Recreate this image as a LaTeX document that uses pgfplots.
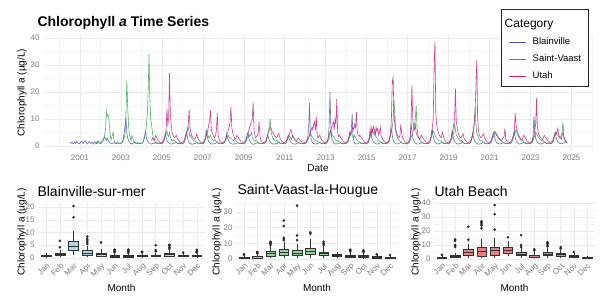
\documentclass[border=0pt]{standalone}
\usepackage{fontspec}
\setmainfont{Liberation Sans}
\usepackage{pgfplots}
\usepackage{pgfplotstable}
\pgfplotsset{compat=1.18}
\usepgfplotslibrary{statistics}
\definecolor{cB}{HTML}{4A56B8}
\definecolor{cS}{HTML}{2EA844}
\definecolor{cU}{HTML}{C41E8A}
\definecolor{fB}{HTML}{ADD8E6}
\definecolor{fS}{HTML}{90D890}
\definecolor{fU}{HTML}{EE7F7F}
\definecolor{gridmaj}{HTML}{EBEBEB}
\definecolor{gridmin}{HTML}{F5F5F5}
\definecolor{tickc}{HTML}{7A7A7A}
\pgfplotsset{
  base/.style={scale only axis, anchor=south west,
    axis line style={draw=none}, tick style={draw=none},
    major tick length=0pt, minor tick length=0pt,
    grid=both, major grid style={gridmaj, line width=0.5pt},
    minor grid style={gridmin, line width=0.4pt},
    tick label style={font=\fontsize{8}{9}\selectfont, text=tickc},
    /pgf/number format/assume math mode=true},
  panel/.style={base, xmin=0.4, xmax=12.6, xtick={1,...,12},
    xticklabels={Jan,Feb,Mar,Apr,May,Jun,Jul,Aug,Sep,Oct,Nov,Dec},
    xticklabel style={rotate=45, anchor=north east, inner sep=1pt},
    boxplot/draw direction=y, boxplot/box extend=0.72, boxplot/whisker extend=0,
    boxplot/every median/.style={line width=1pt}},
  bp/.style={boxplot prepared={#1}, draw=black!80, line width=0.45pt,
    mark=*, mark size=1.2pt, mark options={fill=black!85, draw=black!85, line width=0.2pt}},
  legend image code/.code={\path (0pt,-0.1pt) rectangle (3pt,0.1pt);\draw[#1] (3pt,0pt) -- (17pt,0pt);},
}
% Blainville, semi-monthly from 2000.5
\pgfplotstableread[row sep=\\]{v\\
1.5\\1.2\\1.0\\1.3\\0.8\\1.1\\1.4\\0.9\\1.6\\1.2\\1.0\\0.8\\
1.0\\1.4\\1.8\\1.2\\0.9\\1.5\\2.0\\1.6\\1.0\\0.8\\1.3\\1.7\\1.1\\0.9\\1.4\\1.0\\0.7\\1.2\\1.5\\1.0\\0.8\\1.3\\1.6\\1.1\\
1.0\\0.9\\1.3\\1.6\\2.5\\3.5\\2.8\\2.0\\3.0\\2.2\\1.5\\1.2\\1.0\\0.8\\0.9\\1.1\\1.3\\1.0\\0.8\\0.9\\1.2\\1.0\\0.9\\1.1\\
1.0\\1.2\\1.5\\3.0\\5.0\\8.0\\10.0\\5.0\\3.0\\2.0\\1.5\\1.0\\0.9\\0.7\\1.0\\1.2\\1.5\\1.0\\0.9\\0.8\\1.1\\1.0\\0.9\\1.2\\
1.0\\1.1\\1.4\\2.5\\4.0\\5.5\\3.0\\2.0\\1.5\\1.2\\1.0\\0.8\\0.7\\0.9\\1.0\\1.2\\0.9\\1.3\\1.0\\0.8\\1.0\\1.1\\0.9\\1.0\\
0.9\\1.0\\1.6\\2.8\\4.5\\3.5\\2.2\\1.5\\1.2\\1.0\\0.8\\0.7\\0.8\\0.9\\1.1\\1.0\\1.2\\1.4\\1.0\\0.9\\0.8\\1.0\\0.9\\0.8\\
0.8\\1.0\\1.3\\2.0\\4.0\\5.0\\3.0\\1.8\\1.3\\1.0\\0.8\\0.7\\0.6\\0.8\\1.0\\0.9\\1.1\\1.3\\1.0\\0.9\\0.8\\0.9\\1.0\\0.8\\
0.9\\1.0\\1.5\\3.0\\6.0\\4.0\\2.5\\1.6\\1.2\\1.0\\0.8\\0.7\\0.8\\0.9\\0.8\\1.0\\1.2\\1.5\\1.1\\0.9\\0.8\\0.9\\1.0\\0.9\\
1.0\\1.2\\1.4\\2.5\\4.5\\3.0\\2.0\\1.5\\1.2\\0.9\\0.8\\0.7\\0.7\\0.8\\0.9\\1.0\\1.1\\1.2\\1.0\\0.9\\0.8\\1.0\\0.9\\0.8\\
0.9\\1.0\\1.3\\2.2\\3.8\\5.0\\2.8\\1.8\\1.3\\1.0\\0.8\\0.6\\0.7\\0.8\\0.9\\1.1\\1.3\\1.0\\0.9\\0.8\\0.9\\1.0\\0.8\\0.9\\
1.0\\1.1\\1.5\\2.6\\4.2\\3.2\\2.0\\1.4\\1.1\\0.9\\0.8\\0.7\\0.8\\0.9\\0.7\\0.9\\1.2\\1.6\\1.1\\1.0\\0.8\\0.9\\1.0\\0.9\\
0.9\\1.0\\1.4\\2.4\\4.0\\3.0\\2.0\\1.5\\1.2\\1.0\\0.8\\0.7\\0.8\\0.7\\0.9\\1.0\\1.1\\1.2\\1.0\\0.9\\0.8\\0.9\\0.8\\0.9\\
1.0\\1.2\\2.0\\3.5\\6.0\\16.0\\5.0\\2.5\\1.5\\1.2\\0.9\\0.8\\0.7\\0.8\\0.9\\1.0\\1.2\\1.4\\1.1\\0.9\\0.8\\0.9\\1.0\\0.8\\
0.9\\1.1\\1.5\\3.0\\7.0\\20.0\\8.0\\3.0\\2.0\\1.4\\1.0\\0.8\\0.7\\0.8\\0.9\\1.0\\1.1\\1.3\\1.0\\0.9\\0.8\\0.9\\1.0\\0.9\\
1.0\\1.2\\1.6\\3.0\\5.0\\4.0\\6.0\\12.0\\3.0\\1.8\\1.0\\0.8\\0.7\\0.8\\0.9\\1.1\\1.3\\1.0\\0.9\\0.8\\0.9\\1.0\\0.8\\0.9\\
0.9\\1.0\\1.4\\2.5\\4.0\\5.0\\3.0\\2.0\\1.5\\1.2\\1.0\\0.8\\0.7\\0.8\\0.9\\1.0\\1.2\\1.4\\1.0\\0.9\\0.8\\0.9\\1.0\\0.8\\
0.9\\1.1\\1.5\\2.8\\5.0\\6.5\\4.0\\2.2\\1.5\\1.1\\0.9\\0.8\\0.7\\0.8\\1.0\\1.1\\1.3\\1.2\\1.0\\0.9\\0.8\\0.9\\0.8\\0.9\\
1.0\\1.2\\1.6\\3.0\\8.0\\6.0\\3.0\\2.0\\1.4\\1.1\\0.9\\0.8\\0.7\\0.8\\0.9\\1.0\\1.2\\1.5\\1.1\\0.9\\0.8\\0.9\\1.0\\0.9\\
0.9\\1.0\\1.3\\2.4\\4.5\\6.0\\3.5\\2.2\\1.5\\1.1\\0.9\\0.7\\0.8\\0.9\\1.0\\1.2\\1.4\\1.1\\1.0\\0.8\\0.9\\1.0\\0.8\\0.9\\
1.0\\1.1\\1.5\\2.8\\5.5\\4.0\\2.5\\1.8\\1.3\\1.0\\0.8\\0.7\\0.8\\0.9\\1.0\\1.1\\1.6\\1.3\\1.0\\0.9\\0.8\\0.9\\1.0\\0.8\\
0.9\\1.0\\1.4\\2.6\\4.8\\3.5\\2.2\\1.6\\1.2\\1.0\\0.8\\0.7\\0.7\\0.8\\0.9\\1.0\\1.2\\1.4\\1.1\\0.9\\0.8\\0.9\\0.8\\0.9\\
1.0\\1.2\\1.6\\3.0\\4.5\\5.0\\3.0\\2.0\\1.4\\1.0\\0.9\\0.8\\0.7\\0.8\\0.9\\1.1\\1.3\\1.2\\1.0\\0.9\\0.8\\0.9\\1.0\\0.9\\
0.9\\1.1\\1.5\\2.8\\4.0\\5.5\\3.2\\2.0\\1.4\\1.1\\0.9\\0.7\\0.8\\0.9\\1.0\\1.2\\1.4\\1.1\\1.0\\0.9\\0.8\\0.9\\1.0\\0.8\\
1.0\\1.2\\1.6\\3.5\\11.0\\6.0\\3.0\\2.0\\1.4\\1.1\\0.9\\0.8\\0.7\\0.8\\0.9\\1.0\\1.3\\1.5\\1.1\\0.9\\0.8\\0.9\\1.0\\0.9\\
1.0\\1.1\\1.5\\2.6\\4.0\\5.0\\3.0\\2.0\\1.5\\1.2\\1.0\\0.9\\0.8\\0.9\\1.0\\1.2\\1.4\\1.6\\1.2\\1.0\\
}\tabB
% Saint-Vaast, semi-monthly from 2001.75
\pgfplotstableread[row sep=\\]{v\\
1.0\\1.5\\1.2\\2.0\\1.5\\1.0\\
1.2\\1.5\\2.0\\2.5\\3.0\\4.0\\6.0\\13.0\\11.0\\11.5\\10.0\\6.0\\3.0\\2.5\\4.0\\5.0\\2.0\\1.5\\1.2\\1.0\\1.5\\1.2\\1.0\\0.9\\
1.0\\1.2\\1.5\\2.0\\3.0\\5.0\\12.0\\24.0\\15.0\\8.0\\4.0\\3.0\\2.0\\4.0\\3.0\\1.8\\1.5\\1.2\\1.0\\1.3\\1.1\\0.9\\1.0\\0.9\\
1.0\\1.2\\1.6\\2.5\\3.5\\5.0\\8.0\\12.0\\20.0\\34.0\\18.0\\10.0\\8.0\\5.0\\3.0\\2.5\\2.0\\1.6\\1.3\\1.1\\1.0\\1.2\\1.0\\0.9\\
1.0\\1.1\\1.5\\2.5\\3.5\\4.5\\5.5\\4.0\\3.5\\5.0\\3.0\\2.5\\2.0\\1.8\\2.2\\2.0\\1.5\\1.3\\1.1\\1.0\\1.2\\1.0\\0.9\\1.0\\
0.9\\1.0\\1.4\\2.2\\3.0\\4.0\\6.0\\7.0\\5.0\\3.5\\4.0\\3.0\\2.5\\2.0\\1.8\\2.0\\1.6\\1.3\\1.1\\1.0\\1.1\\1.0\\0.9\\1.0\\
1.0\\1.1\\1.5\\2.4\\3.5\\5.0\\4.0\\3.0\\3.5\\4.0\\3.0\\2.5\\2.0\\1.8\\2.5\\2.0\\1.5\\1.2\\1.1\\1.0\\0.9\\1.0\\1.1\\0.9\\
1.0\\1.2\\1.6\\2.5\\3.0\\3.5\\4.0\\3.0\\3.2\\2.8\\2.5\\2.2\\2.0\\2.4\\2.2\\2.0\\1.6\\1.3\\1.1\\1.0\\1.1\\1.0\\0.9\\1.0\\
0.9\\1.0\\1.4\\2.0\\2.8\\3.5\\4.5\\3.5\\4.0\\5.0\\3.0\\2.5\\2.0\\2.2\\1.8\\2.0\\1.5\\1.2\\1.0\\1.1\\1.0\\0.9\\1.0\\0.9\\
1.0\\1.1\\1.5\\2.5\\4.0\\6.0\\7.0\\10.0\\5.0\\4.0\\3.0\\2.5\\2.0\\1.8\\2.0\\2.2\\1.6\\1.3\\1.1\\1.0\\1.1\\1.0\\0.9\\1.0\\
0.9\\1.0\\1.4\\2.2\\3.0\\4.0\\3.5\\3.0\\2.5\\4.0\\3.0\\2.5\\2.0\\1.8\\1.6\\1.5\\1.3\\1.2\\1.0\\1.1\\1.0\\0.9\\1.0\\0.9\\
1.0\\1.2\\1.5\\2.2\\3.0\\4.0\\5.0\\4.0\\3.5\\3.0\\2.5\\2.2\\2.0\\1.8\\2.0\\1.6\\1.4\\1.2\\1.1\\1.0\\0.9\\1.0\\1.1\\0.9\\
0.9\\1.0\\1.4\\2.0\\3.0\\4.0\\5.5\\4.5\\4.0\\3.5\\3.0\\2.5\\2.2\\2.0\\1.8\\2.0\\1.5\\1.3\\1.1\\1.0\\1.1\\1.0\\0.9\\1.0\\
1.0\\1.1\\1.5\\2.4\\3.2\\4.0\\5.0\\4.0\\3.5\\3.0\\4.0\\3.0\\2.5\\2.0\\1.8\\1.6\\1.4\\1.2\\1.1\\1.0\\0.9\\1.0\\1.0\\0.9\\
0.9\\1.0\\1.4\\2.2\\3.0\\4.5\\5.5\\6.0\\5.0\\4.0\\5.0\\3.5\\3.0\\2.5\\2.0\\1.8\\1.5\\1.3\\1.1\\1.0\\1.1\\1.0\\0.9\\1.0\\
1.0\\1.2\\1.6\\2.5\\4.0\\5.0\\7.0\\10.0\\17.0\\12.0\\6.0\\4.0\\3.0\\2.5\\2.0\\1.8\\1.6\\1.3\\1.1\\1.0\\1.1\\1.0\\0.9\\1.0\\
0.9\\1.0\\1.5\\2.2\\3.0\\4.0\\5.0\\6.0\\8.0\\10.0\\15.0\\7.0\\4.0\\3.0\\2.5\\2.0\\1.6\\1.3\\1.1\\1.0\\0.9\\1.0\\1.0\\0.9\\
1.0\\1.1\\1.5\\2.4\\3.5\\4.5\\5.5\\5.0\\4.0\\3.5\\3.0\\2.5\\2.2\\2.0\\1.8\\2.0\\1.5\\1.3\\1.1\\1.0\\1.1\\1.0\\0.9\\1.0\\
0.9\\1.0\\1.4\\2.2\\3.0\\4.0\\5.0\\8.0\\6.0\\4.0\\3.5\\3.0\\2.5\\2.0\\1.8\\2.2\\1.6\\1.3\\1.1\\1.0\\0.9\\1.0\\1.0\\0.9\\
1.0\\1.1\\1.5\\2.4\\3.5\\5.0\\9.0\\14.0\\8.0\\5.0\\4.0\\3.0\\2.5\\2.0\\1.8\\2.0\\1.5\\1.3\\1.1\\1.0\\1.1\\1.0\\0.9\\1.0\\
0.9\\1.0\\1.4\\2.2\\3.0\\4.0\\4.5\\5.0\\4.0\\3.5\\3.0\\2.5\\2.2\\2.0\\1.8\\1.6\\1.4\\1.2\\1.1\\1.0\\0.9\\1.0\\1.0\\0.9\\
1.0\\1.1\\1.5\\2.4\\3.2\\4.0\\5.0\\6.0\\5.0\\4.0\\3.5\\3.0\\2.5\\2.0\\1.8\\2.0\\1.6\\1.3\\1.1\\1.0\\1.1\\1.0\\0.9\\1.0\\
0.9\\1.0\\1.4\\2.2\\3.0\\4.0\\5.0\\4.5\\4.0\\3.5\\3.0\\2.5\\2.2\\2.0\\1.8\\2.0\\1.5\\1.3\\1.1\\1.0\\0.9\\1.0\\1.0\\0.9\\
1.0\\1.1\\1.5\\2.4\\3.2\\4.0\\5.0\\4.5\\4.0\\3.5\\3.0\\3.5\\4.0\\5.0\\9.0\\4.0\\2.0\\1.6\\1.3\\1.1\\
}\tabS
% Utah, semi-monthly from 2004.5
\pgfplotstableread[row sep=\\]{v\\
2.0\\3.0\\2.5\\2.0\\3.0\\4.0\\3.0\\2.5\\2.0\\1.5\\1.3\\1.2\\
1.5\\1.8\\2.5\\3.0\\4.0\\6.0\\13.7\\8.0\\10.0\\27.0\\12.0\\8.0\\5.0\\4.0\\3.5\\3.0\\3.5\\4.0\\3.0\\2.5\\2.0\\1.6\\1.4\\1.3\\
1.4\\1.6\\2.0\\3.0\\4.0\\5.0\\6.0\\8.0\\13.5\\7.0\\5.0\\4.0\\3.5\\3.0\\2.5\\2.8\\3.5\\4.5\\3.0\\2.5\\2.0\\1.6\\1.4\\1.3\\
1.4\\1.6\\2.0\\3.0\\4.0\\5.0\\6.0\\8.0\\9.0\\13.3\\6.0\\5.0\\4.0\\3.5\\3.0\\4.0\\6.0\\12.3\\4.0\\2.5\\2.0\\1.6\\1.4\\1.3\\
1.4\\1.6\\2.0\\3.0\\4.0\\5.0\\6.0\\7.0\\9.0\\14.5\\7.0\\5.0\\4.0\\3.0\\2.5\\3.0\\4.0\\3.5\\3.0\\2.5\\2.0\\1.6\\1.4\\1.3\\
1.4\\1.6\\2.0\\3.0\\4.0\\5.0\\6.0\\7.0\\8.0\\9.0\\10.0\\16.3\\6.0\\4.0\\3.0\\3.5\\4.0\\5.0\\9.0\\4.0\\2.0\\1.6\\1.4\\1.3\\
1.4\\1.6\\2.0\\3.0\\4.0\\5.0\\6.0\\7.0\\6.5\\5.5\\5.0\\4.5\\4.0\\3.5\\3.0\\3.5\\4.0\\4.5\\3.5\\2.5\\2.0\\1.6\\1.4\\1.3\\
1.4\\1.6\\2.0\\3.0\\3.5\\4.0\\5.0\\6.0\\5.5\\4.0\\3.5\\3.0\\2.5\\2.2\\2.0\\2.5\\3.0\\2.5\\2.0\\1.8\\1.6\\1.5\\1.4\\1.3\\
1.4\\1.6\\2.0\\2.5\\3.0\\4.0\\5.0\\6.0\\7.0\\6.0\\8.0\\9.0\\6.0\\11.0\\4.0\\3.0\\3.5\\4.0\\3.0\\2.5\\2.0\\1.6\\1.4\\1.3\\
1.4\\1.6\\2.0\\3.0\\4.0\\5.0\\6.0\\7.0\\8.0\\9.0\\6.0\\10.0\\8.0\\17.4\\5.0\\3.5\\4.0\\3.5\\3.0\\2.5\\2.0\\1.6\\1.4\\1.3\\
1.4\\1.6\\2.0\\3.0\\4.0\\5.0\\5.5\\6.0\\7.0\\6.0\\8.0\\7.0\\12.5\\5.0\\4.0\\3.5\\4.0\\3.5\\3.0\\2.5\\2.0\\1.6\\1.4\\1.3\\
1.4\\1.6\\2.0\\3.0\\6.5\\4.0\\7.0\\5.0\\7.2\\6.0\\4.0\\7.0\\5.5\\6.5\\4.0\\5.0\\7.0\\4.0\\3.0\\2.5\\2.0\\1.6\\1.4\\1.3\\
1.4\\1.6\\2.0\\3.0\\5.0\\10.0\\24.0\\25.5\\12.0\\8.0\\6.0\\5.0\\4.0\\3.5\\3.0\\4.0\\8.0\\5.0\\3.0\\2.5\\2.0\\1.6\\1.4\\1.3\\
1.4\\1.6\\2.0\\3.5\\8.0\\22.6\\10.0\\7.0\\6.0\\8.0\\5.0\\4.0\\3.5\\3.0\\2.5\\3.0\\4.0\\3.5\\3.0\\2.5\\2.0\\1.6\\1.4\\1.3\\
1.4\\1.6\\2.0\\3.0\\5.0\\7.0\\10.0\\30.0\\38.5\\12.0\\8.0\\6.0\\5.0\\4.0\\3.5\\3.0\\4.0\\5.0\\3.5\\2.5\\2.0\\1.6\\1.4\\1.3\\
1.4\\1.6\\2.0\\3.0\\4.0\\6.0\\8.0\\10.0\\21.2\\9.0\\7.0\\5.0\\4.0\\3.5\\3.0\\3.5\\4.0\\4.5\\3.0\\2.5\\2.0\\1.6\\1.4\\1.3\\
1.4\\1.6\\2.0\\3.0\\4.0\\6.0\\8.0\\12.0\\22.0\\32.0\\10.0\\6.0\\4.0\\3.5\\3.0\\3.5\\4.0\\4.5\\3.0\\2.5\\2.0\\1.6\\1.4\\1.3\\
1.4\\1.6\\2.0\\3.0\\4.0\\5.0\\5.5\\5.0\\4.5\\4.0\\3.5\\3.0\\2.5\\2.2\\2.0\\2.5\\3.0\\3.5\\6.5\\2.5\\2.0\\1.6\\1.4\\1.3\\
1.4\\1.6\\2.0\\3.0\\4.0\\6.0\\12.3\\8.0\\6.0\\5.0\\4.0\\3.5\\3.0\\2.5\\2.2\\3.0\\4.0\\3.5\\3.0\\2.5\\2.0\\1.6\\1.4\\1.3\\
1.4\\1.6\\2.0\\3.0\\4.0\\6.0\\8.0\\17.6\\7.0\\5.0\\4.0\\3.5\\3.0\\2.5\\2.2\\3.0\\4.0\\3.5\\3.0\\2.5\\2.0\\1.6\\1.4\\1.3\\
1.4\\1.6\\2.0\\3.0\\4.0\\5.0\\4.5\\5.5\\6.6\\4.0\\3.5\\3.0\\2.5\\4.0\\5.0\\3.0\\2.5\\2.0\\1.6\\1.4\\
}\tabU
\begin{document}
\begin{tikzpicture}[x=1pt,y=1pt]
\path[use as bounding box] (0,0) rectangle (600,302);
% ---------- top time series ----------
\begin{axis}[base, at={(43pt,151pt)}, width=549pt, height=116pt,
  xmin=1999.2, xmax=2026.0, ymin=-1.85, ymax=41.1,
  xtick={2001,2003,...,2025}, minor xtick={2000,2002,...,2026},
  ytick={0,10,20,30,40}, minor ytick={5,15,25,35},
  xticklabel style={/pgf/number format/1000 sep={}},
  legend cell align=left,
  legend style={at={(0.9945,1.224)}, anchor=north east, draw=black!85,
    line width=0.6pt, fill=white, font=\fontsize{9.5}{11}\selectfont,
    row sep=8.5pt, column sep=0pt, inner xsep=7pt, inner ysep=5.5pt,
    nodes={inner sep=0pt}},
]
\addlegendimage{empty legend}
\addlegendentry{\rule[-3.2pt]{0pt}{16.3pt}\hspace*{-22pt}\fontsize{12}{12}\selectfont Category}
\addlegendimage{draw=cB, line width=0.9pt}
\addlegendentry{\rule[-2pt]{0pt}{9pt}\hspace*{6pt}\makebox[49pt][l]{Blainville}}
\addlegendimage{draw=cS, line width=0.9pt}
\addlegendentry{\rule[-2pt]{0pt}{9pt}\hspace*{6pt}\makebox[49pt][l]{Saint-Vaast}}
\addlegendimage{draw=cU, line width=0.9pt}
\addlegendentry{\rule[-2pt]{0pt}{9pt}\hspace*{6pt}\makebox[49pt][l]{Utah}}
\addplot[cB, line width=0.6pt, opacity=0.85, forget plot] table[x expr={2000.5+\coordindex/24}, y=v] {\tabB};
\addplot[cS, line width=0.6pt, opacity=0.85, forget plot] table[x expr={2001.75+\coordindex/24}, y=v] {\tabS};
\addplot[cU, line width=0.6pt, opacity=0.85, forget plot] table[x expr={2004.5+\coordindex/24}, y=v] {\tabU};
\end{axis}
\node[anchor=west, font=\fontsize{14}{16}\selectfont\bfseries] at (34,279) {Chlorophyll \textit{a} Time Series};
\node[rotate=90, font=\fontsize{10}{12}\selectfont] at (22,209.5) {Chlorophyll a (µg/L)};
\node[font=\fontsize{10}{12}\selectfont] at (318,134) {Date};
% ---------- Blainville boxplots ----------
\begin{axis}[panel, at={(38pt,41pt)}, width=167pt, height=58pt,
  ymin=-1.18, ymax=21.6, ytick={0,5,...,20}, minor ytick={2.5,7.5,...,17.5}]
\addplot[bp={draw position=1, lower whisker=0.2, lower quartile=0.5, median=0.8, upper quartile=1.2, upper whisker=2.0}, fill=fB] coordinates {};
\addplot[bp={draw position=2, lower whisker=0.5, lower quartile=1.0, median=1.3, upper quartile=1.8, upper whisker=3.0}, fill=fB] table[row sep=\\, y index=0] {d\\4.2\\6.7\\};
\addplot[bp={draw position=3, lower whisker=1.2, lower quartile=3.2, median=4.7, upper quartile=6.4, upper whisker=10.6}, fill=fB] table[row sep=\\, y index=0] {d\\16.0\\20.4\\};
\addplot[bp={draw position=4, lower whisker=0.3, lower quartile=0.9, median=1.8, upper quartile=3.1, upper whisker=4.7}, fill=fB] table[row sep=\\, y index=0] {d\\5.5\\6.2\\7.0\\7.5\\8.4\\};
\addplot[bp={draw position=5, lower whisker=0.3, lower quartile=0.8, median=1.2, upper quartile=2.0, upper whisker=3.5}, fill=fB] table[row sep=\\, y index=0] {d\\6.1\\};
\addplot[bp={draw position=6, lower whisker=0.1, lower quartile=0.4, median=0.6, upper quartile=0.9, upper whisker=1.6}, fill=fB] table[row sep=\\, y index=0] {d\\2.2\\2.6\\3.0\\3.3\\};
\addplot[bp={draw position=7, lower whisker=0.1, lower quartile=0.4, median=0.6, upper quartile=0.9, upper whisker=1.6}, fill=fB] table[row sep=\\, y index=0] {d\\2.0\\2.5\\2.9\\3.3\\};
\addplot[bp={draw position=8, lower whisker=0.2, lower quartile=0.5, median=0.7, upper quartile=1.0, upper whisker=1.6}, fill=fB] table[row sep=\\, y index=0] {d\\2.2\\2.5\\};
\addplot[bp={draw position=9, lower whisker=0.2, lower quartile=0.6, median=0.9, upper quartile=1.2, upper whisker=2.0}, fill=fB] table[row sep=\\, y index=0] {d\\2.6\\3.1\\5.0\\};
\addplot[bp={draw position=10, lower whisker=0.3, lower quartile=0.8, median=1.2, upper quartile=1.8, upper whisker=3.0}, fill=fB] table[row sep=\\, y index=0] {d\\3.6\\4.2\\4.8\\5.2\\};
\addplot[bp={draw position=11, lower whisker=0.3, lower quartile=0.6, median=0.9, upper quartile=1.2, upper whisker=1.8}, fill=fB] table[row sep=\\, y index=0] {d\\2.1\\};
\addplot[bp={draw position=12, lower whisker=0.2, lower quartile=0.5, median=0.7, upper quartile=1.0, upper whisker=1.6}, fill=fB] table[row sep=\\, y index=0] {d\\2.1\\2.6\\3.2\\};
\end{axis}
% ---------- Saint-Vaast boxplots ----------
\begin{axis}[panel, at={(236pt,41pt)}, width=162pt, height=58pt,
  ymin=-1.28, ymax=35.7, ytick={0,10,20,30}, minor ytick={5,15,25,35}]
\addplot[bp={draw position=1, lower whisker=0.3, lower quartile=0.6, median=1.0, upper quartile=1.4, upper whisker=2.2}, fill=fS] table[row sep=\\, y index=0] {d\\2.6\\3.0\\};
\addplot[bp={draw position=2, lower whisker=0.4, lower quartile=0.8, median=1.3, upper quartile=1.8, upper whisker=3.0}, fill=fS] table[row sep=\\, y index=0] {d\\3.5\\4.0\\4.5\\};
\addplot[bp={draw position=3, lower whisker=0.5, lower quartile=2.0, median=3.2, upper quartile=5.0, upper whisker=8.5}, fill=fS] table[row sep=\\, y index=0] {d\\9.0\\9.8\\10.5\\11.0\\};
\addplot[bp={draw position=4, lower whisker=0.6, lower quartile=2.5, median=4.0, upper quartile=6.0, upper whisker=11.0}, fill=fS] table[row sep=\\, y index=0] {d\\12.0\\12.8\\13.5\\21.0\\24.5\\};
\addplot[bp={draw position=5, lower whisker=0.6, lower quartile=2.3, median=3.8, upper quartile=5.5, upper whisker=9.5}, fill=fS] table[row sep=\\, y index=0] {d\\12.0\\15.0\\34.0\\};
\addplot[bp={draw position=6, lower whisker=0.8, lower quartile=3.0, median=5.0, upper quartile=7.0, upper whisker=13.0}, fill=fS] table[row sep=\\, y index=0] {d\\16.0\\17.0\\};
\addplot[bp={draw position=7, lower whisker=0.6, lower quartile=2.2, median=3.2, upper quartile=4.5, upper whisker=8.0}, fill=fS] table[row sep=\\, y index=0] {d\\9.0\\10.0\\11.0\\};
\addplot[bp={draw position=8, lower whisker=0.5, lower quartile=1.8, median=2.3, upper quartile=3.0, upper whisker=4.5}, fill=fS] coordinates {};
\addplot[bp={draw position=9, lower whisker=0.4, lower quartile=1.2, median=1.8, upper quartile=2.5, upper whisker=4.2}, fill=fS] table[row sep=\\, y index=0] {d\\5.0\\5.5\\6.0\\};
\addplot[bp={draw position=10, lower whisker=0.3, lower quartile=1.0, median=1.5, upper quartile=2.2, upper whisker=4.0}, fill=fS] table[row sep=\\, y index=0] {d\\4.5\\5.0\\5.5\\};
\addplot[bp={draw position=11, lower whisker=0.3, lower quartile=0.8, median=1.1, upper quartile=1.5, upper whisker=2.5}, fill=fS] table[row sep=\\, y index=0] {d\\3.0\\};
\addplot[bp={draw position=12, lower whisker=0.3, lower quartile=0.6, median=0.9, upper quartile=1.3, upper whisker=2.2}, fill=fS] table[row sep=\\, y index=0] {d\\2.5\\};
\end{axis}
% ---------- Utah boxplots ----------
\begin{axis}[panel, at={(434pt,41pt)}, width=161pt, height=58pt,
  ymin=-1.43, ymax=40.0, ytick={0,10,20,30,40}, minor ytick={5,15,25,35}]
\addplot[bp={draw position=1, lower whisker=0.3, lower quartile=0.8, median=1.2, upper quartile=1.6, upper whisker=2.5}, fill=fU] table[row sep=\\, y index=0] {d\\3.0\\};
\addplot[bp={draw position=2, lower whisker=0.4, lower quartile=1.2, median=1.8, upper quartile=2.6, upper whisker=4.5}, fill=fU] table[row sep=\\, y index=0] {d\\8.5\\9.5\\10.0\\13.0\\14.0\\};
\addplot[bp={draw position=3, lower whisker=0.8, lower quartile=2.9, median=4.5, upper quartile=6.9, upper whisker=11.0}, fill=fU] table[row sep=\\, y index=0] {d\\13.7\\23.0\\};
\addplot[bp={draw position=4, lower whisker=0.6, lower quartile=2.2, median=5.2, upper quartile=8.4, upper whisker=14.0}, fill=fU] table[row sep=\\, y index=0] {d\\22.0\\24.0\\25.0\\26.0\\27.0\\};
\addplot[bp={draw position=5, lower whisker=0.8, lower quartile=2.9, median=5.9, upper quartile=8.4, upper whisker=14.8}, fill=fU] table[row sep=\\, y index=0] {d\\21.0\\32.0\\38.5\\};
\addplot[bp={draw position=6, lower whisker=1.8, lower quartile=4.1, median=6.4, upper quartile=8.4, upper whisker=12.5}, fill=fU] table[row sep=\\, y index=0] {d\\15.5\\};
\addplot[bp={draw position=7, lower whisker=0.8, lower quartile=2.5, median=3.5, upper quartile=5.0, upper whisker=8.0}, fill=fU] table[row sep=\\, y index=0] {d\\8.5\\10.0\\17.0\\};
\addplot[bp={draw position=8, lower whisker=0.5, lower quartile=1.5, median=2.2, upper quartile=3.0, upper whisker=5.0}, fill=fU] table[row sep=\\, y index=0] {d\\6.0\\7.0\\};
\addplot[bp={draw position=9, lower whisker=0.8, lower quartile=2.5, median=3.5, upper quartile=5.0, upper whisker=8.0}, fill=fU] table[row sep=\\, y index=0] {d\\9.0\\10.0\\11.0\\12.0\\};
\addplot[bp={draw position=10, lower whisker=0.7, lower quartile=2.2, median=3.0, upper quartile=4.0, upper whisker=6.5}, fill=fU] table[row sep=\\, y index=0] {d\\7.5\\8.5\\};
\addplot[bp={draw position=11, lower whisker=0.4, lower quartile=1.2, median=1.8, upper quartile=2.4, upper whisker=4.0}, fill=fU] table[row sep=\\, y index=0] {d\\5.0\\};
\addplot[bp={draw position=12, lower whisker=0.3, lower quartile=0.8, median=1.2, upper quartile=1.6, upper whisker=2.4}, fill=fU] coordinates {};
\end{axis}
\node[anchor=west, font=\fontsize{14}{16}\selectfont] at (34,111) {Blainville-sur-mer};
\node[anchor=west, font=\fontsize{14}{16}\selectfont] at (234,111) {Saint-Vaast-la-Hougue};
\node[anchor=west, font=\fontsize{14}{16}\selectfont] at (431,111) {Utah Beach};
\node[rotate=90, font=\fontsize{10}{12}\selectfont] at (22,70) {Chlorophyll a (µg/L)};
\node[rotate=90, font=\fontsize{10}{12}\selectfont] at (217,70) {Chlorophyll a (µg/L)};
\node[rotate=90, font=\fontsize{10}{12}\selectfont] at (416,70) {Chlorophyll a (µg/L)};
\node[font=\fontsize{10}{12}\selectfont] at (121.5,14) {Month};
\node[font=\fontsize{10}{12}\selectfont] at (317,14) {Month};
\node[font=\fontsize{10}{12}\selectfont] at (514.5,14) {Month};
\end{tikzpicture}
\end{document}
